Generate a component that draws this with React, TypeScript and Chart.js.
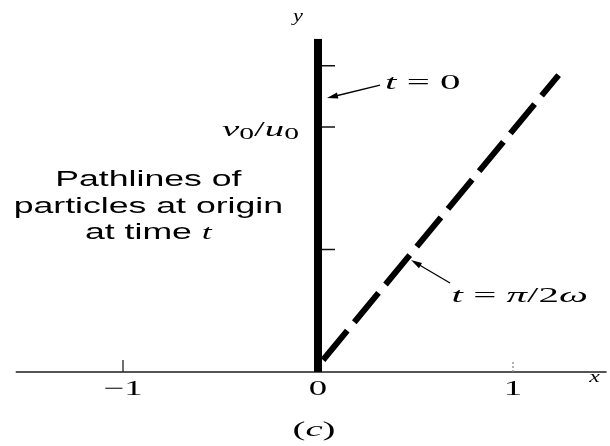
import React, { useEffect, useRef } from "react";
import { Chart, registerables } from "chart.js";

Chart.register(...registerables);

// Axis ticks (y measured in units of v0/u0)
const xTicks = [-1, 0, 1];
const xTickLabels = ["\u22121", "0", "1"];
const yTicks = [0.5, 1, 1.25];

// Pathline of the particle released at t = 0 (straight up the y axis)
const pathT0X = [0, 0];
const pathT0Y = [0, 1.36];

// Pathline of the particle released at t = pi/2w (inclined dashed line)
const pathQuarterX = [0.026, 1.234];
const pathQuarterY = [0.049, 1.212];

const X_MIN = -1.55;
const X_MAX = 1.48;
const Y_MIN = 0;
const Y_MAX = 1.36;

const SERIF = '"Liberation Serif", "DejaVu Serif", serif';
const SANS = '"Liberation Sans", Arial, sans-serif';

type Run = { text: string; font: string; dy?: number };

// Draws a row of text runs, widened horizontally by sx.
function drawRuns(
  ctx: CanvasRenderingContext2D,
  runs: Run[],
  x: number,
  y: number,
  align: "left" | "center",
  sx: number
) {
  ctx.save();
  ctx.textBaseline = "middle";
  ctx.textAlign = "left";
  let total = 0;
  const widths = runs.map((r) => {
    ctx.font = r.font;
    const w = ctx.measureText(r.text).width;
    total += w;
    return w;
  });
  ctx.translate(x, y);
  ctx.scale(sx, 1);
  let cx = align === "center" ? -total / 2 : 0;
  runs.forEach((r, i) => {
    ctx.font = r.font;
    ctx.fillText(r.text, cx, r.dy || 0);
    cx += widths[i];
  });
  ctx.restore();
}

function arrow(
  ctx: CanvasRenderingContext2D,
  x0: number,
  y0: number,
  x1: number,
  y1: number
) {
  const ang = Math.atan2(y1 - y0, x1 - x0);
  const len = 11;
  const half = 3;
  ctx.save();
  ctx.strokeStyle = "#000";
  ctx.fillStyle = "#000";
  ctx.lineWidth = 1.3;
  ctx.beginPath();
  ctx.moveTo(x0, y0);
  ctx.lineTo(x1 - Math.cos(ang) * len * 0.8, y1 - Math.sin(ang) * len * 0.8);
  ctx.stroke();
  ctx.beginPath();
  ctx.moveTo(x1, y1);
  ctx.lineTo(
    x1 - Math.cos(ang) * len - Math.sin(ang) * half,
    y1 - Math.sin(ang) * len + Math.cos(ang) * half
  );
  ctx.lineTo(
    x1 - Math.cos(ang) * len + Math.sin(ang) * half,
    y1 - Math.sin(ang) * len - Math.cos(ang) * half
  );
  ctx.closePath();
  ctx.fill();
  ctx.restore();
}

const axesPlugin = {
  id: "pathlineAxes",
  beforeDatasetsDraw(chart: any) {
    const { ctx } = chart;
    const xs = chart.scales.x;
    const ys = chart.scales.y;
    const y0 = ys.getPixelForValue(0);
    ctx.save();
    // x axis
    ctx.strokeStyle = "#555";
    ctx.lineWidth = 2;
    ctx.beginPath();
    ctx.moveTo(xs.getPixelForValue(X_MIN), y0);
    ctx.lineTo(xs.getPixelForValue(X_MAX), y0);
    ctx.stroke();
    // x ticks
    xTicks.forEach((v) => {
      if (v === 0) return;
      const px = xs.getPixelForValue(v);
      ctx.strokeStyle = v < 0 ? "#222" : "#888";
      ctx.lineWidth = 1.3;
      ctx.setLineDash(v < 0 ? [] : [2, 2]);
      ctx.beginPath();
      ctx.moveTo(px, y0);
      ctx.lineTo(px, y0 - 12);
      ctx.stroke();
    });
    ctx.setLineDash([]);
    // y ticks on the right of the y axis
    const x0 = xs.getPixelForValue(0);
    ctx.strokeStyle = "#111";
    ctx.lineWidth = 1.5;
    yTicks.forEach((v) => {
      const py = ys.getPixelForValue(v);
      ctx.beginPath();
      ctx.moveTo(x0, py);
      ctx.lineTo(x0 + 17, py);
      ctx.stroke();
    });
    ctx.restore();
  },
  afterDatasetsDraw(chart: any) {
    const { ctx } = chart;
    const xs = chart.scales.x;
    const ys = chart.scales.y;
    const px = (v: number) => xs.getPixelForValue(v);
    const py = (v: number) => ys.getPixelForValue(v);
    ctx.save();
    ctx.fillStyle = "#000";

    const roman = `21px ${SERIF}`;
    const ital = `italic 21px ${SERIF}`;

    // tick labels
    xTicks.forEach((v, i) => {
      drawRuns(ctx, [{ text: xTickLabels[i], font: `21px ${SERIF}` }], px(v), py(0) + 17, "center", 1.75);
    });
    // axis names
    drawRuns(ctx, [{ text: "x", font: `italic 17px ${SERIF}` }], px(X_MAX) - 12, py(0) + 6, "center", 1.4);
    drawRuns(ctx, [{ text: "y", font: `italic 16px ${SERIF}` }], px(0) - 20, py(Y_MAX) - 22, "center", 1.4);

    // v0/u0 label at the y = 1 tick
    drawRuns(
      ctx,
      [
        { text: "v", font: ital },
        { text: "0", font: `16px ${SERIF}`, dy: 5 },
        { text: "/", font: roman },
        { text: "u", font: ital },
        { text: "0", font: `16px ${SERIF}`, dy: 5 },
      ],
      px(0) - 96,
      py(1) + 3,
      "left",
      1.85
    );

    // t = 0 annotation
    drawRuns(
      ctx,
      [
        { text: "t", font: ital },
        { text: " = 0", font: roman },
      ],
      px(0.344),
      py(1.176),
      "left",
      1.95
    );
    arrow(ctx, px(0.318), py(1.171), px(0.046), py(1.118));

    // t = pi/2w annotation
    drawRuns(
      ctx,
      [
        { text: "t", font: ital },
        { text: " = ", font: roman },
        { text: "\u03c0", font: ital },
        { text: "/2", font: roman },
        { text: "\u03c9", font: ital },
      ],
      px(0.685),
      py(0.31),
      "left",
      1.95
    );
    arrow(ctx, px(0.677), py(0.363), px(0.477), py(0.457));

    // caption block on the left
    const cx = px(-0.87);
    const sans = `22px ${SANS}`;
    drawRuns(ctx, [{ text: "Pathlines of", font: sans }], cx, py(0.784), "center", 1.62);
    drawRuns(ctx, [{ text: "particles at origin", font: sans }], cx, py(0.673), "center", 1.62);
    drawRuns(
      ctx,
      [
        { text: "at time ", font: sans },
        { text: "t", font: `italic 22px ${SERIF}` },
      ],
      cx,
      py(0.567),
      "center",
      1.62
    );

    // panel label
    drawRuns(
      ctx,
      [
        { text: "(", font: roman },
        { text: "c", font: ital },
        { text: ")", font: roman },
      ],
      px(0) - 4,
      py(0) + 58,
      "center",
      1.85
    );
    ctx.restore();
  },
};

export default function App() {
  const canvasRef = useRef<HTMLCanvasElement | null>(null);

  useEffect(() => {
    if (!canvasRef.current) return;
    const toPoints = (xs: number[], ys: number[]) =>
      xs.map((x, i) => ({ x, y: ys[i] }));

    const chart = new Chart(canvasRef.current, {
      type: "scatter",
      data: {
        datasets: [
          {
            label: "t = 0",
            data: toPoints(pathT0X, pathT0Y),
            showLine: true,
            borderColor: "#000",
            borderWidth: 8,
            borderCapStyle: "butt",
            pointRadius: 0,
          },
          {
            label: "t = \u03c0/2\u03c9",
            data: toPoints(pathQuarterX, pathQuarterY),
            showLine: true,
            borderColor: "#000",
            borderWidth: 6,
            borderDash: [38, 11],
            borderCapStyle: "butt",
            pointRadius: 0,
          },
        ],
      },
      options: {
        animation: false,
        responsive: false,
        maintainAspectRatio: false,
        layout: {
          padding: { left: 15.75, right: 3.4, top: 38.8, bottom: 74 },
        },
        scales: {
          x: { type: "linear", min: X_MIN, max: X_MAX, display: false },
          y: { type: "linear", min: Y_MIN, max: Y_MAX, display: false },
        },
        plugins: {
          legend: { display: false },
          tooltip: { enabled: false },
        },
      },
      plugins: [axesPlugin],
    });
    return () => chart.destroy();
  }, []);

  return (
    <div
      style={{
        position: "fixed",
        left: 0,
        top: 0,
        width: 610,
        height: 446,
        background: "#fff",
      }}
    >
      <canvas ref={canvasRef} width={610} height={446} />
    </div>
  );
}
